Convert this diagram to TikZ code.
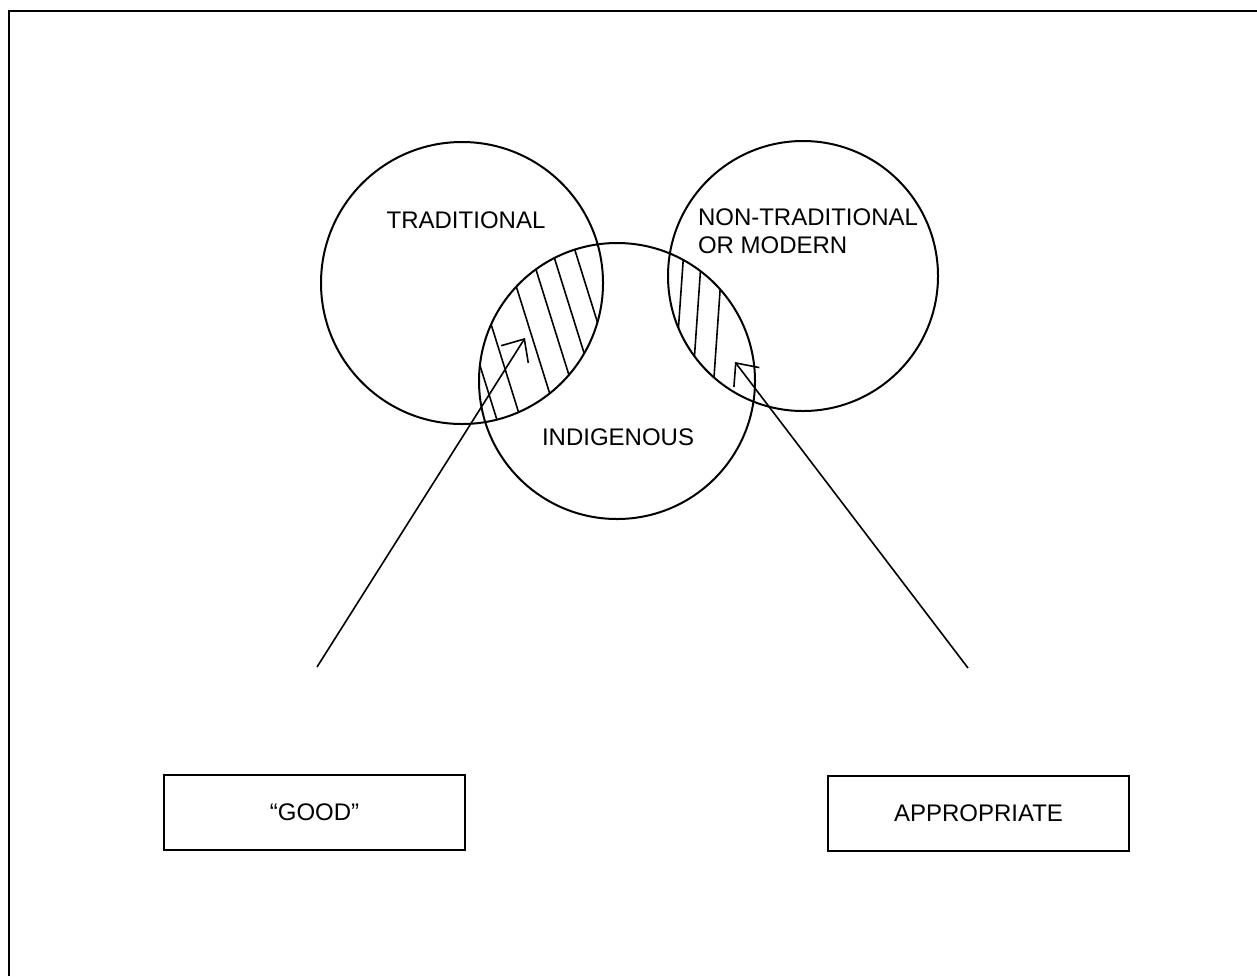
\documentclass[tikz,border=0pt]{standalone}
\usepackage{fontspec}
\setmainfont{Liberation Sans}
\usetikzlibrary{arrows.meta}

\begin{document}
\begin{tikzpicture}[x=0.5pt,y=-0.5pt,line width=1pt]
\tikzstyle{set} = [draw, shape=circle, inner sep=0pt]
\tikzstyle{word} = [inner sep=0pt, font=\fontsize{12}{14}\selectfont]
\tikzstyle{box} = [draw, minimum width=150.5pt, minimum height=37.5pt, font=\fontsize{12}{14}\selectfont]
\tikzstyle{hatch} = [line width=0.8pt]
\tikzstyle{pointer} = [-{Straight Barb[length=9pt,width=16pt]}, line width=0.8pt]

\useasboundingbox (0,0) rectangle (1257,976);
\draw [line width=1.3pt] (9,976) -- (9,11) -- (1257,11);

\node [set, minimum size=141pt] (trad) at (462,283) {};
\node [set, minimum size=135pt] (modern) at (803,276) {};
\node [set, minimum size=138pt] (indig) at (617,381) {};

\begin{scope}
\clip (462,283) circle [radius=70.5pt];
\clip (617,381) circle [radius=69pt];
\foreach \x in {472,496,533,558,580,603}
  \draw [hatch] (\x-50,180) -- (\x+50,500);
\end{scope}

\begin{scope}
\clip (803,276) circle [radius=67.5pt];
\clip (617,381) circle [radius=69pt];
\foreach \x in {679,697,718}
  \draw [hatch] (\x+7,220) -- (\x-7,420);
\end{scope}

\node [word] (tradlabel) at (466,220) {TRADITIONAL};
\node [word, align=left, anchor=west] (modlabel) at (697,231) {NON-TRADITIONAL\\OR MODERN};
\node [word] (indiglabel) at (618,437) {INDIGENOUS};

\node [box] (good) at (314.5,812.5) {“GOOD”};
\node [box] (appr) at (978.5,813) {APPROPRIATE};

\coordinate (goodend) at (317,667);
\coordinate (goodtip) at (525,338);
\coordinate (apprend) at (968,668);
\coordinate (apprtip) at (735,362);
\draw [pointer] (goodend) -- (goodtip);
\draw [pointer] (apprend) -- (apprtip);

\end{tikzpicture}
\end{document}
